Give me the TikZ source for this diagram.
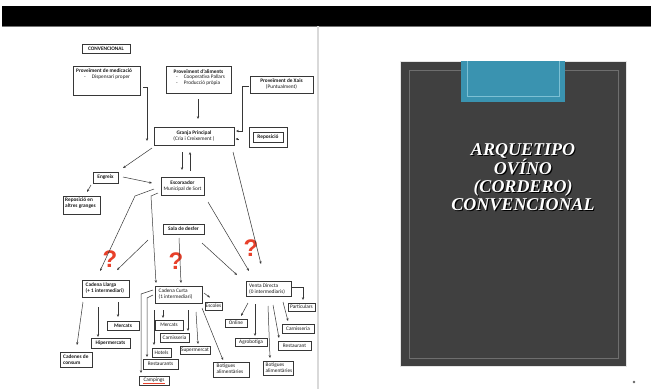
\documentclass[tikz,border=0pt]{standalone}
\usepackage{fontspec}
\setmainfont{Carlito}
\newfontfamily\titlefont{Liberation Serif}
\newfontfamily\qfont{Liberation Sans}
\usetikzlibrary{arrows.meta,fit}
\definecolor{panel}{RGB}{64,64,64}
\definecolor{tealc}{RGB}{58,147,176}
\definecolor{tealln}{RGB}{125,192,212}
\definecolor{qred}{RGB}{232,64,42}
\definecolor{lineg}{RGB}{55,55,55}
\tikzset{
  box/.style={draw=lineg, line width=0.6pt, inner sep=0pt},
  tx/.style={font=\fontsize{5.3}{6}\selectfont, inner sep=0pt, align=center, text=black!90},
  arr/.style={draw=lineg, line width=0.5pt, -{Stealth[length=2.8pt,width=2.3pt]}},
  qm/.style={text=qred, font=\qfont\bfseries\fontsize{24}{24}\selectfont, inner sep=0pt},
}
\begin{document}
\begin{tikzpicture}[x=1pt,y=-1pt]
\useasboundingbox (0,0) rectangle (651,389);
\fill[white] (0,0) rectangle (651,389);
% top bar and divider
\fill[black] (2,6) rectangle (651,26);
\draw[black!55, line width=0.6pt] (2,26) -- (651,26);
\fill[black!15] (317,26.3) rectangle (319,389);

% right page
\fill[panel] (400,61) rectangle (626,366);
\draw[black!10, line width=0.4pt] (400,61) rectangle (626,366);
\draw[black!45!white!60!panel, line width=0.8pt] (409,70.5) rectangle (618,358);
\fill[tealc] (460.5,61) rectangle (565,102);
\draw[tealln, line width=0.8pt] (467,61) -- (467,96.6) -- (559.5,96.6) -- (559.5,61);
\node[align=center, text=black, font=\titlefont\bfseries\itshape\fontsize{18}{17.8}\selectfont] (titlesh) at (524.2,178.2) {ARQUETIPO\\OVÍNO\\(CORDERO)\\CONVENCIONAL};
\node[align=center, text=white, font=\titlefont\bfseries\itshape\fontsize{18}{17.8}\selectfont] (title) at (523,177) {ARQUETIPO\\OVÍNO\\(CORDERO)\\CONVENCIONAL};
\fill[black!60] (634,382) circle (1.3);

% ---- boxes ----
\node[box, fit={(82,44)(130,53)}] (conv) {};
\node[box, fit={(73,66)(140,95)}] (med) {};
\node[box, fit={(166,66)(231,93)}] (ali) {};
\node[box, fit={(250,76)(313,93)}] (xais) {};
\node[box, fit={(154,127)(234,145)}] (granja) {};
\node[box, fit={(249,127)(287,147)}] (repo) {};
\node[box, fit={(253,132)(283,142)}] (repoin) {};
\node[box, fit={(93,172)(118,183)}] (engreix) {};
\node[box, fit={(63,196)(100,214)}] (altres) {};
\node[box, fit={(161,177)(204,195)}] (escorx) {};
\node[box, fit={(163,224)(204,234)}] (sala) {};
\node[box, fit={(82,280)(129,297)}] (llarga) {};
\node[box, fit={(60,352)(92,367)}] (consum) {};
\node[box, fit={(91,338)(130,348)}] (hiper) {};
\node[box, fit={(107,321)(139,330)}] (mamami) {};
\node[box, fit={(155,286)(202,303)}] (curta) {};
\node[box, fit={(139,376)(169,385)}] (camp) {};
\node[box, fit={(143,359)(178,369)}] (restcc) {};
\node[box, fit={(152,348)(171,357)}] (hotels) {};
\node[box, fit={(155,320)(183,330)}] (mercat) {};
\node[box, fit={(160,333)(189,342)}] (carncc) {};
\node[box, fit={(180,346)(210,354)}] (super) {};
\node[box, fit={(213,362)(249,377)}] (botcc) {};
\node[box, fit={(205,302)(222,310)}] (escoles) {};
\node[box, fit={(246,281)(291,296)}] (venta) {};
\node[box, fit={(288,303)(315,311)}] (partic) {};
\node[box, fit={(225,319)(247,327)}] (online) {};
\node[box, fit={(235,338)(267,346)}] (agro) {};
\node[box, fit={(263,361)(293,375)}] (botvd) {};
\node[box, fit={(278,341)(311,350)}] (restvd) {};
\node[box, fit={(282,324)(314,333)}] (carnvd) {};

% ---- texts ----
\node[tx] (convt) at (conv.center) {\textbf{CONVENCIONAL}};
\node[tx, anchor=north west, align=left] (medt) at (76,68.5) {\textbf{Proveïment de medicació}\\\hspace{8pt}-\hspace{6pt}Dispensari proper};
\node[tx, anchor=north] (alit) at (198.5,69) {\textbf{Proveïment d'aliments}};
\node[tx, anchor=north west, align=left] (alil) at (176,75) {-\hspace{6pt}Cooperativa Pallars\\-\hspace{6pt}Producció pròpia};
\node[tx, anchor=north] (xaist) at (281.5,79) {\textbf{Proveïment de Xais}\\(Puntualment)};
\node[tx] (granjat) at (granja.center) {\textbf{Granja Principal}\\(Cria i Creixement )};
\node[tx] (repot) at (repoin.center) {\textbf{Reposició}};
\node[tx] (engreixt) at (engreix.center) {\textbf{Engreix}};
\node[tx, anchor=north west, align=left] (altrest) at (65,198) {\textbf{Reposició en}\\\textbf{altres granges}};
\node[tx] (escorxt) at (escorx.center) {\textbf{Escorxador}\\Municipal de Sort};
\node[tx] (salat) at (sala.center) {\textbf{Sala de desfer}};
\node[tx, anchor=north west, align=left] (llargat) at (85.5,282.5) {\textbf{Cadena Llarga}\\\textbf{(+ 1 intermediari)}};
\node[tx, anchor=north west, align=left] (consumt) at (63,354.5) {\textbf{Cadenes de}\\\textbf{consum}};
\node[tx] (hipert) at (hiper.center) {\textbf{Hipermercats}};
\node[tx] (mamamit) at (mamami.center) {\textbf{Mercats}};
\node[tx, anchor=north west, align=left] (curtat) at (158.5,288.5) {Cadena Curta\\(1 intermediari)};
\node[tx] (campt) at (camp.center) {Campings};
\draw[qred, line width=0.4pt] (143,383) -- (165,383);
\node[tx] (restcct) at (restcc.center) {Restaurants};
\node[tx] (hotelst) at (hotels.center) {Hotels};
\node[tx] (mercatt) at (mercat.center) {Mercats};
\node[tx] (carncct) at (carncc.center) {Carnisseria};
\node[tx] (supert) at (super.center) {Supermercat};
\node[tx, anchor=north west, align=left] (botcct) at (216.5,364) {Botigues\\alimentàries};
\node[tx] (escolest) at (escoles.center) {Escoles};
\node[tx, anchor=north west, align=left] (ventat) at (249,283.5) {Venta Directa\\(0 intermediaris)};
\node[tx] (partict) at (partic.center) {Particulars};
\node[tx] (onlinet) at (online.center) {Online};
\node[tx] (agrot) at (agro.center) {Agrobotiga};
\node[tx, anchor=north west, align=left] (botvdt) at (265.5,362.5) {Botigues\\alimentàries};
\node[tx] (restvdt) at (restvd.center) {Restaurant};
\node[tx] (carnvdt) at (carnvd.center) {Carnisseria};

% question marks
\node[qm] (q1) at (110,259) {?};
\node[qm] (q2) at (176,261) {?};
\node[qm] (q3) at (251,248) {?};

% ---- connector end points ----
\coordinate (a1) at (143,87);   \coordinate (b1) at (147,141);
\coordinate (a2) at (198,99);   \coordinate (b2) at (198,119);
\coordinate (a3) at (249,86);   \coordinate (k3) at (242,86); \coordinate (k3b) at (242,131); \coordinate (b3) at (236,131);
\coordinate (a4) at (249,139);  \coordinate (b4) at (235.5,139);
\coordinate (a5) at (182,152);  \coordinate (b5) at (182,170);
\coordinate (a6) at (190,171);  \coordinate (b6) at (190,152);
\coordinate (a7) at (152,148);  \coordinate (b7) at (123,168);
\coordinate (a8) at (123,177);  \coordinate (b8) at (152,183);
\coordinate (a9) at (91,185);   \coordinate (b9) at (87,192);
\coordinate (a10) at (154,189); \coordinate (k10) at (135,196); \coordinate (b10) at (100,271);
\coordinate (a11) at (158,193); \coordinate (k11) at (151,196); \coordinate (b11) at (156,283);
\coordinate (a12) at (148,240); \coordinate (b12) at (117,270);
\coordinate (a13) at (179,238); \coordinate (b13) at (181,283);
\coordinate (a14) at (202,243); \coordinate (b14) at (237,275);
\coordinate (a15) at (208,202); \coordinate (b15) at (249,271);
\coordinate (a16) at (233,152); \coordinate (b16) at (261,264);
\coordinate (a17) at (83,302);  \coordinate (b17) at (77,345);
\coordinate (a18) at (98,307);  \coordinate (b18) at (98,337);
\coordinate (a19) at (118,302); \coordinate (b19) at (118,317);
\coordinate (a20) at (153,290); \coordinate (k20) at (141,294); \coordinate (b20) at (141,373);
\coordinate (a21) at (153,295); \coordinate (k21) at (147,298); \coordinate (b21) at (147,357);
\coordinate (a22) at (154,310); \coordinate (b22) at (154,345);
\coordinate (a23) at (163,310); \coordinate (b23) at (163,318);
\coordinate (a24) at (188,310); \coordinate (b24) at (188,331);
\coordinate (a25) at (196,312); \coordinate (b25) at (198,344);
\coordinate (a26) at (202,308); \coordinate (b26) at (223,360);
\coordinate (a27) at (204,293); \coordinate (b27) at (210,297.5);
\coordinate (a28) at (292,287); \coordinate (k28) at (303,287); \coordinate (b28) at (303,300);
\coordinate (a29) at (248,303); \coordinate (b29) at (241,316);
\coordinate (a30) at (255,304); \coordinate (b30) at (255,336);
\coordinate (a31) at (268,306); \coordinate (b31) at (270,358);
\coordinate (a32) at (273,305); \coordinate (b32) at (279,338);
\coordinate (a33) at (283,302); \coordinate (b33) at (288,321);

% ---- connectors ----
\draw[arr] (a1) -| (b1);
\draw[arr] (a2) -- (b2);
\draw[arr] (a3) -- (k3) -- (k3b) -- (b3);
\draw[lineg, line width=0.5pt, double=white, double distance=1.2pt] (a4) -- ([xshift=2.5pt]b4);
\draw[arr] ([xshift=3pt]b4) -- (b4);
\draw[arr] (a5) -- (b5);
\draw[arr] (a6) -- (b6);
\draw[arr] (a7) -- (b7);
\draw[arr] (a8) -- (b8);
\draw[arr] (a9) -- (b9);
\draw[arr] (a10) -- (k10) -- (b10);
\draw[arr] (a11) -- (k11) -- (b11);
\draw[arr] (a12) -- (b12);
\draw[arr] (a13) -- (b13);
\draw[arr] (a14) -- (b14);
\draw[arr] (a15) -- (b15);
\draw[arr] (a16) -- (b16);
\draw[arr] (a17) -- (b17);
\draw[arr] (a18) -- (b18);
\draw[arr] (a19) -- (b19);
\draw[arr] (a20) -- (k20) -- (b20);
\draw[arr] (a21) -- (k21) -- (b21);
\draw[arr] (a22) -- (b22);
\draw[arr] (a23) -- (b23);
\draw[arr] (a24) -- (b24);
\draw[arr] (a25) -- (b25);
\draw[arr] (a26) -- (b26);
\draw[arr] (a27) -- (b27);
\draw[arr] (a28) -- (k28) -- (b28);
\draw[arr] (a29) -- (b29);
\draw[arr] (a30) -- (b30);
\draw[arr] (a31) -- (b31);
\draw[arr] (a32) -- (b32);
\draw[arr] (a33) -- (b33);
\end{tikzpicture}
\end{document}
